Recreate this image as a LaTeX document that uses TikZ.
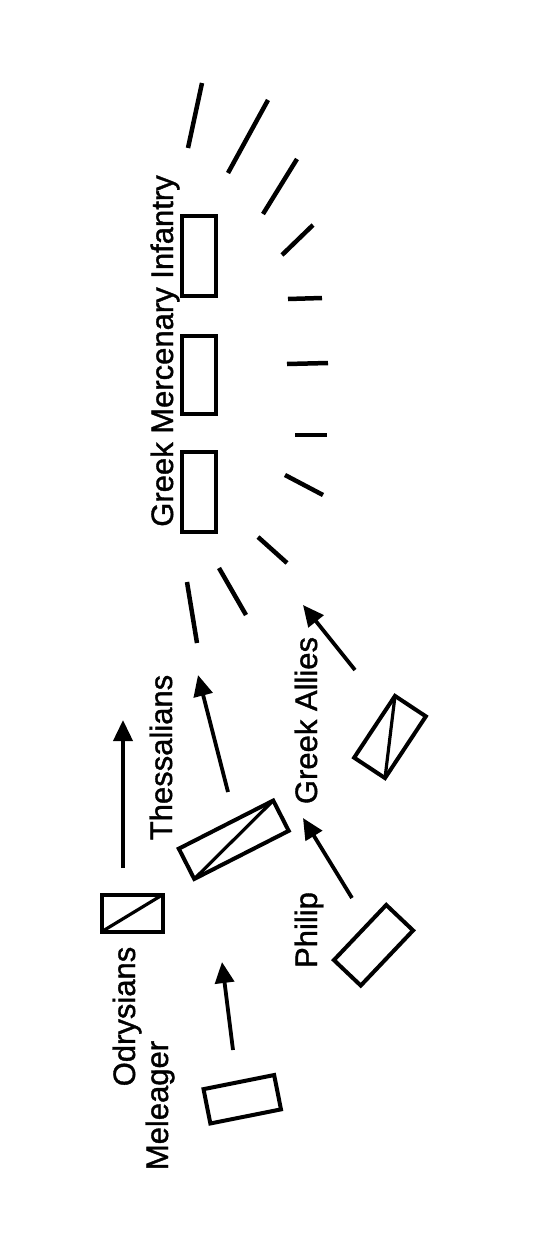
\documentclass[tikz,border=0pt]{standalone}
\usepackage{fontspec}
\setmainfont{Liberation Sans}
\usetikzlibrary{arrows.meta}
\begin{document}
\begin{tikzpicture}[x=1pt,y=-1pt,
  unit/.style={draw, line width=4pt, rectangle, inner sep=0pt, outer sep=0pt},
  lbl/.style={font=\fontsize{31}{33}\selectfont\addfontfeature{FakeBold=1.2}, rotate=90, anchor=base, inner sep=0pt},
  mv/.style={line width=3.8pt, -{Triangle[length=21pt,width=19pt]}},
  sk/.style={line width=4.5pt},
  diag/.style={line width=3.2pt}]
\useasboundingbox (0,0) rectangle (550,1237);
% Greek mercenary infantry blocks
\node[unit, minimum width=34pt, minimum height=80pt] (inf1) at (199,256) {};
\node[unit, minimum width=34pt, minimum height=78pt] (inf2) at (199,374.5) {};
\node[unit, minimum width=34pt, minimum height=80pt] (inf3) at (199,491.5) {};
\node[lbl] (lgmi) at (173,351) {Greek Mercenary Infantry};
% skirmish lines
\draw[sk] (202,83) -- (188,148);
\draw[sk] (268,100) -- (228,173);
\draw[sk] (297,159) -- (263,214);
\draw[sk] (313,225) -- (282,255);
\draw[sk] (288,299) -- (322,298);
\draw[sk] (287,364) -- (328,363);
\draw[sk] (295,435) -- (327,435);
\draw[sk] (285,475) -- (323,495);
\draw[sk] (258,537) -- (287,563);
\draw[sk] (219,568) -- (246,615);
\draw[sk] (187,582) -- (197,643);
% Macedonian units
\node[unit, minimum width=106pt, minimum height=34pt, rotate=27] (thess) at (233.75,839.75) {};
\draw[diag] (thess.south west) -- (thess.north east);
\node[unit, minimum width=61pt, minimum height=37pt] (odry) at (132.5,913) {};
\draw[diag] (odry.south west) -- (odry.north east);
\node[unit, minimum width=74pt, minimum height=37pt, rotate=56.5] (allies) at (390,737) {};
\draw[diag] (allies.north east) -- (allies.south west);
\node[unit, minimum width=76pt, minimum height=37pt, rotate=46.5] (philip) at (373.5,945.25) {};
\node[unit, minimum width=72pt, minimum height=35pt, rotate=11.3] (mel) at (242.25,1099.25) {};
% labels
\node[lbl] (lthess) at (172,757.5) {Thessalians};
\node[lbl] (lallies) at (317,720.5) {Greek Allies};
\node[lbl] (lphilip) at (317,930) {Philip};
\node[lbl] (lodry) at (135,1016.5) {Odrysians};
\node[lbl] (lmel) at (168,1105.5) {Meleager};
% arrows
\coordinate (odS) at (123,868); \coordinate (odT) at (123,720);
\coordinate (thS) at (228,792); \coordinate (thT) at (198,675);
\coordinate (phS) at (352,898); \coordinate (phT) at (303,818);
\coordinate (alS) at (355,670); \coordinate (alT) at (303,605);
\coordinate (meS) at (233,1050); \coordinate (meT) at (222,962);
\draw[mv] (odS) -- (odT);
\draw[mv] (thS) -- (thT);
\draw[mv] (phS) -- (phT);
\draw[mv] (alS) -- (alT);
\draw[mv] (meS) -- (meT);
\end{tikzpicture}
\end{document}
